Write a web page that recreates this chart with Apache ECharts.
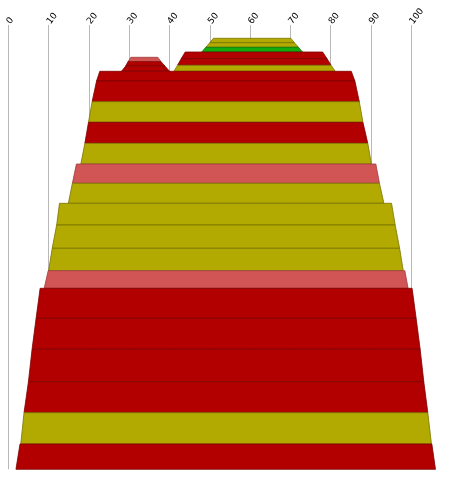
<!doctype html>
<html>
    <head>
        <meta charset="utf-8">
        <title>Layers</title>
        <script src="https://cdn.jsdelivr.net/npm/echarts@6/dist/echarts.min.js"></script>
        <style>
            html, body { margin: 0; padding: 0; background: #fff; }
            #main { width: 452px; height: 477px; }
        </style>
    </head>
    <body>
        <div id="main"></div>
        <script>
            // each layer: depth of top and bottom edge, x of left/right edge at top and bottom
            var layerTop    = [13.3, 17.7, 22.3, 27.0, 33.7, 40.3, 32.3, 36.7, 41.2, 46.3, 56.0, 76.7, 97.3, 118.3, 139.0, 158.3, 178.3, 200.0, 223.3, 245.7, 263.3, 293.3, 324.3, 356.7, 387.7, 419.0];
            var layerBottom = [17.7, 22.3, 27.0, 33.7, 40.3, 46.3, 36.7, 41.2, 46.3, 56.0, 76.7, 97.3, 118.3, 139.0, 158.3, 178.3, 200.0, 223.3, 245.7, 263.3, 293.3, 324.3, 356.7, 387.7, 419.0, 444.3];
            var leftTop     = [50.9, 50.0, 49.0, 43.9, 42.9, 42.0, 30.4, 29.7, 29.1, 22.7, 21.9, 20.8, 19.9, 19.0, 16.9, 15.9, 12.7, 12.0, 10.9, 9.9, 7.9, 6.9, 5.9, 5.0, 3.9, 2.9];
            var leftBottom  = [50.0, 49.0, 48.0, 42.9, 42.0, 41.1, 29.7, 29.1, 28.1, 21.9, 20.8, 19.9, 19.0, 18.0, 15.9, 14.9, 12.0, 10.9, 10.0, 8.9, 6.9, 5.9, 5.0, 3.9, 3.1, 1.9];
            var rightTop    = [70.1, 71.0, 72.0, 78.0, 79.1, 80.1, 37.1, 37.9, 38.9, 85.1, 86.0, 87.1, 88.0, 89.2, 91.2, 92.1, 95.1, 96.0, 97.1, 98.4, 100.2, 101.2, 102.2, 103.1, 104.1, 105.1];
            var rightBottom = [71.0, 72.0, 73.0, 79.1, 80.1, 81.1, 37.9, 38.9, 40.0, 86.0, 87.1, 88.0, 89.2, 90.1, 92.1, 93.2, 96.0, 97.1, 98.0, 99.2, 101.2, 102.2, 103.1, 104.1, 105.0, 106.0];
            var layerKind   = ['olive', 'olive', 'green', 'red', 'red', 'olive', 'pink', 'red', 'red', 'red', 'red', 'olive', 'red', 'olive', 'pink', 'olive', 'olive', 'olive', 'olive', 'pink', 'red', 'red', 'red', 'red', 'olive', 'red'];
            var xTicks = [0, 10, 20, 30, 40, 50, 60, 70, 80, 90, 100];

            var fills   = { red: '#b20000', olive: '#b2aa00', pink: '#d25555', green: '#12aa0c' };
            var strokes = { red: '#7c0000', olive: '#7a7400', pink: '#a03c3c', green: '#0a7a06' };

            var rows = [];
            for (var i = 0; i < layerTop.length; i++) {
                rows.push([leftTop[i], leftBottom[i], rightTop[i], rightBottom[i], layerTop[i], layerBottom[i], i]);
            }

            function renderLayer(params, api) {
                var lt = api.value(0), lb = api.value(1), rt = api.value(2), rb = api.value(3);
                var top = api.value(4), bottom = api.value(5);
                var kind = layerKind[api.value(6)];
                var pts = [
                    api.coord([lt, top]),
                    api.coord([rt, top]),
                    api.coord([rb, bottom]),
                    api.coord([lb, bottom])
                ];
                return {
                    type: 'polygon',
                    shape: { points: pts },
                    style: { fill: fills[kind], stroke: strokes[kind], lineWidth: 0.8 }
                };
            }

            var chart = echarts.init(document.getElementById('main'));
            chart.setOption({
                animation: false,
                backgroundColor: '#fff',
                grid: { left: 8.3, right: 40.7, top: 25, bottom: 7.7 },
                xAxis: {
                    type: 'value',
                    position: 'top',
                    min: xTicks[0],
                    max: xTicks[xTicks.length - 1],
                    interval: 10,
                    axisLine: { show: false },
                    axisTick: { show: false },
                    axisLabel: {
                        rotate: 52,
                        margin: 2,
                        fontSize: 9,
                        fontFamily: 'DejaVu Sans',
                        color: '#000'
                    },
                    splitLine: { show: true, lineStyle: { color: '#b8b8b8', width: 1 } }
                },
                yAxis: {
                    type: 'value',
                    min: 0,
                    max: 444.3,
                    inverse: true,
                    show: false,
                    splitLine: { show: false }
                },
                series: [{
                    type: 'custom',
                    renderItem: renderLayer,
                    clip: false,
                    encode: { x: [0, 1, 2, 3], y: [4, 5] },
                    data: rows
                }]
            });
        </script>
    </body>
</html>
